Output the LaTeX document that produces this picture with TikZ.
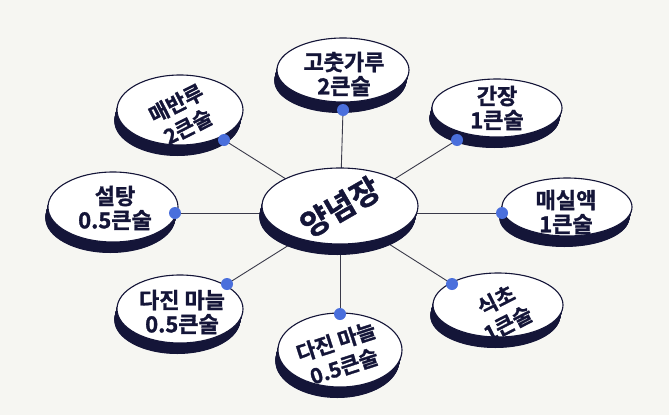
\documentclass[tikz,border=0pt]{standalone}
\usepackage{fontspec}
\setmainfont{Noto Sans CJK KR}[BoldFont={Noto Sans CJK KR Bold}, BoldFeatures={FakeBold=1.3}]
\definecolor{navy}{HTML}{141538}
\definecolor{linec}{HTML}{3A3A4A}
\definecolor{dotc}{HTML}{4A6FDC}
\definecolor{bgc}{HTML}{F6F6F2}
\tikzset{
  lbl/.style={text=navy, font=\bfseries\fontsize{22}{24}\selectfont, align=center, inner sep=0pt},
  rotlbl/.style={text=navy, font=\bfseries\fontsize{21}{26}\selectfont, align=center, inner sep=0pt},
  biglbl/.style={text=navy, font=\bfseries\fontsize{31}{34}\selectfont, align=center, inner sep=0pt},
  conn/.style={draw=linec, line width=0.9pt},
  dotst/.style={fill=dotc},
}
\newcommand\mydisc[5]{% name cx cy rx ry
  \foreach \d in {0,0.5,...,11}{
    \fill[navy] (#2-0.25*\d,#3+\d) ellipse [x radius=#4pt, y radius=#5pt];
  }
  \filldraw[fill=white, draw=navy, line width=1.1pt] (#2,#3) ellipse [x radius=#4pt, y radius=#5pt];
  \coordinate (#1) at (#2,#3);
}
\begin{document}
\begin{tikzpicture}[x=1pt,y=-1pt]
\fill[bgc] (0,0) rectangle (669,415);
\useasboundingbox (0,0) rectangle (669,415);
\coordinate (c) at (340,213);
\coordinate (d1) at (343,110);
\coordinate (d2) at (457,140);
\coordinate (d3) at (502,213);
\coordinate (d4) at (452,284);
\coordinate (d5) at (340,314);
\coordinate (d6) at (227,284);
\coordinate (d7) at (175,213);
\coordinate (d8) at (224,140);
\foreach \i in {1,...,8}{ \draw[conn] (c) -- (d\i); }
\mydisc{e1}{343}{70}{66}{32}
\mydisc{e2}{497}{108}{65}{29}
\mydisc{e3}{567}{207}{65}{29}
\mydisc{e4}{498}{305}{65}{32}
\mydisc{e5}{340}{350}{62}{37}
\mydisc{e6}{180}{309}{63}{34}
\mydisc{e7}{113}{207}{65}{35}
\mydisc{e8}{180}{110}{63}{35}
\mydisc{e0}{340}{206}{78}{38}
\node[lbl] (t1) at (344,74) {고춧가루\\2큰술};
\node[lbl] (t2) at (497,108) {간장\\1큰술};
\node[lbl] (t3) at (566,212) {매실액\\1큰술};
\node[rotlbl, rotate=27] (t4) at (502,312) {식초\\1큰술};
\node[rotlbl, rotate=18] (t5) at (340,354) {다진 마늘\\0.5큰술};
\node[lbl] (t6) at (182,312) {다진 마늘\\0.5큰술};
\node[lbl] (t7) at (115,208) {설탕\\0.5큰술};
\node[rotlbl, rotate=27] (t8) at (182,115) {매반루\\2큰술};
\node[biglbl, rotate=30] (t0) at (340,207) {양념장};
\foreach \i in {1,...,8}{ \fill[dotst] (d\i) circle [radius=6pt]; }
\end{tikzpicture}
\end{document}
